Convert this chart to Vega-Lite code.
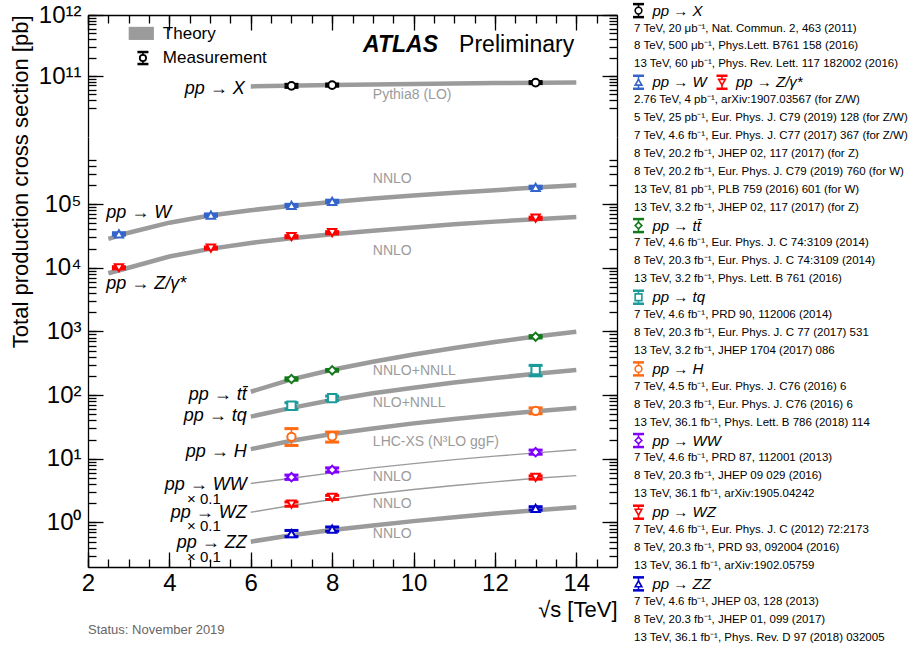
{
  "$schema": "https://vega.github.io/schema/vega-lite/v6.json",
  "background": "white",
  "padding": {"left": 9, "top": 2, "right": 0, "bottom": 0},
  "config": {
    "font": "Liberation Sans",
    "view": {"stroke": null},
    "axis": {
      "domainColor": "black", "domainWidth": 1.3, "tickColor": "black", "tickWidth": 1.3,
      "labelFont": "Liberation Sans", "labelFontSize": 24, "labelColor": "black",
      "titleFont": "Liberation Sans", "titleFontSize": 22, "titleFontWeight": "normal", "titleColor": "black",
      "grid": false, "labelOverlap": false, "labelBound": false, "labelFlush": false
    }
  },
  "datasets": {
    "theory": [
      {"proc": "X", "x": 6, "y": 67500000000}, {"proc": "X", "x": 8, "y": 71000000000}, {"proc": "X", "x": 10, "y": 74000000000}, {"proc": "X", "x": 12, "y": 76500000000}, {"proc": "X", "x": 14, "y": 78500000000},
      {"proc": "W", "x": 2.5, "y": 28500}, {"proc": "W", "x": 3, "y": 35500}, {"proc": "W", "x": 4, "y": 51000}, {"proc": "W", "x": 5, "y": 66000}, {"proc": "W", "x": 6, "y": 80000}, {"proc": "W", "x": 7, "y": 94000}, {"proc": "W", "x": 8, "y": 108000}, {"proc": "W", "x": 9, "y": 122000}, {"proc": "W", "x": 10, "y": 136000}, {"proc": "W", "x": 11, "y": 150000}, {"proc": "W", "x": 12, "y": 165000}, {"proc": "W", "x": 13, "y": 182000}, {"proc": "W", "x": 14, "y": 198000},
      {"proc": "Z", "x": 2.5, "y": 8200}, {"proc": "Z", "x": 3, "y": 10000}, {"proc": "Z", "x": 4, "y": 15000}, {"proc": "Z", "x": 5, "y": 19800}, {"proc": "Z", "x": 6, "y": 24500}, {"proc": "Z", "x": 7, "y": 29000}, {"proc": "Z", "x": 8, "y": 33500}, {"proc": "Z", "x": 9, "y": 38000}, {"proc": "Z", "x": 10, "y": 43000}, {"proc": "Z", "x": 11, "y": 48000}, {"proc": "Z", "x": 12, "y": 53000}, {"proc": "Z", "x": 13, "y": 58000}, {"proc": "Z", "x": 14, "y": 62500},
      {"proc": "tt", "x": 6, "y": 113}, {"proc": "tt", "x": 7, "y": 177}, {"proc": "tt", "x": 8, "y": 250}, {"proc": "tt", "x": 9, "y": 335}, {"proc": "tt", "x": 10, "y": 435}, {"proc": "tt", "x": 11, "y": 550}, {"proc": "tt", "x": 12, "y": 680}, {"proc": "tt", "x": 13, "y": 830}, {"proc": "tt", "x": 14, "y": 990},
      {"proc": "tq", "x": 6, "y": 46}, {"proc": "tq", "x": 7, "y": 63}, {"proc": "tq", "x": 8, "y": 84}, {"proc": "tq", "x": 9, "y": 107}, {"proc": "tq", "x": 10, "y": 131}, {"proc": "tq", "x": 11, "y": 158}, {"proc": "tq", "x": 12, "y": 186}, {"proc": "tq", "x": 13, "y": 216}, {"proc": "tq", "x": 14, "y": 248},
      {"proc": "H", "x": 6, "y": 14.2}, {"proc": "H", "x": 7, "y": 19.2}, {"proc": "H", "x": 8, "y": 24.5}, {"proc": "H", "x": 9, "y": 30}, {"proc": "H", "x": 10, "y": 36}, {"proc": "H", "x": 11, "y": 42.2}, {"proc": "H", "x": 12, "y": 48.8}, {"proc": "H", "x": 13, "y": 55.6}, {"proc": "H", "x": 14, "y": 62.6},
      {"proc": "WW", "x": 6, "y": 4.1}, {"proc": "WW", "x": 7, "y": 4.95}, {"proc": "WW", "x": 8, "y": 6.0}, {"proc": "WW", "x": 9, "y": 7.2}, {"proc": "WW", "x": 10, "y": 8.4}, {"proc": "WW", "x": 11, "y": 9.7}, {"proc": "WW", "x": 12, "y": 11.0}, {"proc": "WW", "x": 13, "y": 12.4}, {"proc": "WW", "x": 14, "y": 13.9},
      {"proc": "WZ", "x": 6, "y": 1.45}, {"proc": "WZ", "x": 7, "y": 1.85}, {"proc": "WZ", "x": 8, "y": 2.3}, {"proc": "WZ", "x": 9, "y": 2.8}, {"proc": "WZ", "x": 10, "y": 3.3}, {"proc": "WZ", "x": 11, "y": 3.8}, {"proc": "WZ", "x": 12, "y": 4.35}, {"proc": "WZ", "x": 13, "y": 4.95}, {"proc": "WZ", "x": 14, "y": 5.45},
      {"proc": "ZZ", "x": 6, "y": 0.5}, {"proc": "ZZ", "x": 7, "y": 0.63}, {"proc": "ZZ", "x": 8, "y": 0.76}, {"proc": "ZZ", "x": 9, "y": 0.9}, {"proc": "ZZ", "x": 10, "y": 1.05}, {"proc": "ZZ", "x": 11, "y": 1.21}, {"proc": "ZZ", "x": 12, "y": 1.38}, {"proc": "ZZ", "x": 13, "y": 1.56}, {"proc": "ZZ", "x": 14, "y": 1.74}
    ],
    "meas": [
      {"proc": "X", "x": 7, "y": 69000000000, "lo": 65000000000, "hi": 73000000000},
      {"proc": "X", "x": 8, "y": 71000000000, "lo": 68000000000, "hi": 74000000000},
      {"proc": "X", "x": 13, "y": 78000000000, "lo": 75000000000, "hi": 81000000000},
      {"proc": "W", "x": 2.76, "y": 34000, "lo": 32500, "hi": 35500},
      {"proc": "W", "x": 5.02, "y": 67000, "lo": 64000, "hi": 70000},
      {"proc": "W", "x": 7, "y": 95000, "lo": 91000, "hi": 99000},
      {"proc": "W", "x": 8, "y": 110000, "lo": 105000, "hi": 115000},
      {"proc": "W", "x": 13, "y": 183000, "lo": 175000, "hi": 191000},
      {"proc": "Z", "x": 2.76, "y": 10000, "lo": 9600, "hi": 10400},
      {"proc": "Z", "x": 5.02, "y": 20400, "lo": 19600, "hi": 21200},
      {"proc": "Z", "x": 7, "y": 30700, "lo": 29500, "hi": 31900},
      {"proc": "Z", "x": 8, "y": 35500, "lo": 34100, "hi": 36900},
      {"proc": "Z", "x": 13, "y": 60000, "lo": 57600, "hi": 62400},
      {"proc": "tt", "x": 7, "y": 179, "lo": 171, "hi": 187},
      {"proc": "tt", "x": 8, "y": 245, "lo": 237, "hi": 253},
      {"proc": "tt", "x": 13, "y": 825, "lo": 790, "hi": 860},
      {"proc": "tq", "x": 7, "y": 68, "lo": 60, "hi": 76},
      {"proc": "tq", "x": 8, "y": 89.6, "lo": 82.5, "hi": 96.7},
      {"proc": "tq", "x": 13, "y": 247, "lo": 201, "hi": 293},
      {"proc": "H", "x": 7, "y": 22.1, "lo": 16.2, "hi": 29.8},
      {"proc": "H", "x": 8, "y": 22.6, "lo": 18.3, "hi": 26.3},
      {"proc": "H", "x": 13, "y": 56.7, "lo": 51, "hi": 63},
      {"proc": "WW", "x": 7, "y": 5.14, "lo": 4.75, "hi": 5.55},
      {"proc": "WW", "x": 8, "y": 6.7, "lo": 6.2, "hi": 7.2},
      {"proc": "WW", "x": 13, "y": 12.7, "lo": 11.8, "hi": 13.7},
      {"proc": "WZ", "x": 7, "y": 1.95, "lo": 1.8, "hi": 2.1},
      {"proc": "WZ", "x": 8, "y": 2.48, "lo": 2.3, "hi": 2.66},
      {"proc": "WZ", "x": 13, "y": 5.1, "lo": 4.8, "hi": 5.4},
      {"proc": "ZZ", "x": 7, "y": 0.67, "lo": 0.6, "hi": 0.75},
      {"proc": "ZZ", "x": 8, "y": 0.79, "lo": 0.73, "hi": 0.85},
      {"proc": "ZZ", "x": 13, "y": 1.67, "lo": 1.57, "hi": 1.77}
    ],
    "annTop": [
      {"x": 5.85, "y": 61000000000, "text": "pp → X", "kind": "procR"},
      {"x": 9.0, "y": 49000000000, "text": "Pythia8 (LO)", "kind": "theo"},
      {"x": 3.84, "y": 490000000000, "text": "Theory", "kind": "leg"},
      {"x": 3.84, "y": 197000000000, "text": "Measurement", "kind": "leg"},
      {"x": 8.76, "y": 320000000000, "text": "ATLAS", "kind": "atlas"},
      {"x": 11.12, "y": 320000000000, "text": "Preliminary", "kind": "prelim"}
    ],
    "legBox": [{"x": 3.0, "x2": 3.62, "y": 390000000000, "y2": 640000000000}],
    "legMeas": [{"proc": "X", "x": 3.35, "y": 197000000000}],
    "ann": [
      {"x": 2.45, "y": 72000, "text": "pp → W", "kind": "procL"},
      {"x": 2.45, "y": 5500, "text": "pp → Z/γ*", "kind": "procL"},
      {"x": 5.9, "y": 100, "text": "pp → tt̄", "kind": "procR"},
      {"x": 5.9, "y": 46.6, "text": "pp → tq", "kind": "procR"},
      {"x": 5.9, "y": 12.7, "text": "pp → H", "kind": "procR"},
      {"x": 5.9, "y": 3.9, "text": "pp → WW", "kind": "procR"},
      {"x": 5.9, "y": 1.43, "text": "pp → WZ", "kind": "procR"},
      {"x": 5.9, "y": 0.48, "text": "pp → ZZ", "kind": "procR"},
      {"x": 4.85, "y": 2.36, "text": "× 0.1", "kind": "scale"},
      {"x": 4.85, "y": 0.87, "text": "× 0.1", "kind": "scale"},
      {"x": 4.85, "y": 0.29, "text": "× 0.1", "kind": "scale"},
      {"x": 9.0, "y": 250000, "text": "NNLO", "kind": "theo"},
      {"x": 9.0, "y": 18500, "text": "NNLO", "kind": "theo"},
      {"x": 9.0, "y": 239, "text": "NNLO+NNLL", "kind": "theo"},
      {"x": 9.0, "y": 74, "text": "NLO+NNLL", "kind": "theo"},
      {"x": 9.0, "y": 18.3, "text": "LHC-XS (N³LO ggF)", "kind": "theo"},
      {"x": 9.0, "y": 5.1, "text": "NNLO", "kind": "theo"},
      {"x": 9.0, "y": 1.95, "text": "NNLO", "kind": "theo"},
      {"x": 9.0, "y": 0.65, "text": "NNLO", "kind": "theo"},
      {"x": 2.0, "y": 0.0204, "text": "Status: November 2019", "kind": "status"}
    ],
    "leg": [
      {"row": 1, "slot": "a", "kind": "head", "proc": "X", "text": "pp → X"},
      {"row": 2, "slot": "a", "kind": "ref", "text": "7 TeV, 20 μb⁻¹, Nat. Commun. 2, 463 (2011)"},
      {"row": 3, "slot": "a", "kind": "ref", "text": "8 TeV, 500 μb⁻¹, Phys.Lett. B761 158 (2016)"},
      {"row": 4, "slot": "a", "kind": "ref", "text": "13 TeV, 60 μb⁻¹, Phys. Rev. Lett. 117 182002 (2016)"},
      {"row": 5, "slot": "a", "kind": "head", "proc": "W", "text": "pp → W"},
      {"row": 5, "slot": "b", "kind": "head", "proc": "Z", "text": "pp → Z/γ*"},
      {"row": 6, "slot": "a", "kind": "ref", "text": "2.76 TeV, 4 pb⁻¹, arXiv:1907.03567 (for Z/W)"},
      {"row": 7, "slot": "a", "kind": "ref", "text": "5 TeV, 25 pb⁻¹, Eur. Phys. J. C79 (2019) 128 (for Z/W)"},
      {"row": 8, "slot": "a", "kind": "ref", "text": "7 TeV, 4.6 fb⁻¹, Eur. Phys. J. C77 (2017) 367 (for Z/W)"},
      {"row": 9, "slot": "a", "kind": "ref", "text": "8 TeV, 20.2 fb⁻¹, JHEP 02, 117 (2017) (for Z)"},
      {"row": 10, "slot": "a", "kind": "ref", "text": "8 TeV, 20.2 fb⁻¹, Eur. Phys. J. C79 (2019) 760 (for W)"},
      {"row": 11, "slot": "a", "kind": "ref", "text": "13 TeV, 81 pb⁻¹, PLB 759 (2016) 601 (for W)"},
      {"row": 12, "slot": "a", "kind": "ref", "text": "13 TeV, 3.2 fb⁻¹, JHEP 02, 117 (2017) (for Z)"},
      {"row": 13, "slot": "a", "kind": "head", "proc": "tt", "text": "pp → tt̄"},
      {"row": 14, "slot": "a", "kind": "ref", "text": "7 TeV, 4.6 fb⁻¹, Eur. Phys. J. C 74:3109 (2014)"},
      {"row": 15, "slot": "a", "kind": "ref", "text": "8 TeV, 20.3 fb⁻¹, Eur. Phys. J. C 74:3109 (2014)"},
      {"row": 16, "slot": "a", "kind": "ref", "text": "13 TeV, 3.2 fb⁻¹, Phys. Lett. B 761 (2016)"},
      {"row": 17, "slot": "a", "kind": "head", "proc": "tq", "text": "pp → tq"},
      {"row": 18, "slot": "a", "kind": "ref", "text": "7 TeV, 4.6 fb⁻¹, PRD 90, 112006 (2014)"},
      {"row": 19, "slot": "a", "kind": "ref", "text": "8 TeV, 20.3 fb⁻¹, Eur. Phys. J. C 77 (2017) 531"},
      {"row": 20, "slot": "a", "kind": "ref", "text": "13 TeV, 3.2 fb⁻¹, JHEP 1704 (2017) 086"},
      {"row": 21, "slot": "a", "kind": "head", "proc": "H", "text": "pp → H"},
      {"row": 22, "slot": "a", "kind": "ref", "text": "7 TeV, 4.5 fb⁻¹, Eur. Phys. J. C76 (2016) 6"},
      {"row": 23, "slot": "a", "kind": "ref", "text": "8 TeV, 20.3 fb⁻¹, Eur. Phys. J. C76 (2016) 6"},
      {"row": 24, "slot": "a", "kind": "ref", "text": "13 TeV, 36.1 fb⁻¹, Phys. Lett. B 786 (2018) 114"},
      {"row": 25, "slot": "a", "kind": "head", "proc": "WW", "text": "pp → WW"},
      {"row": 26, "slot": "a", "kind": "ref", "text": "7 TeV, 4.6 fb⁻¹, PRD 87, 112001 (2013)"},
      {"row": 27, "slot": "a", "kind": "ref", "text": "8 TeV, 20.3 fb⁻¹, JHEP 09 029 (2016)"},
      {"row": 28, "slot": "a", "kind": "ref", "text": "13 TeV, 36.1 fb⁻¹, arXiv:1905.04242"},
      {"row": 29, "slot": "a", "kind": "head", "proc": "WZ", "text": "pp → WZ"},
      {"row": 30, "slot": "a", "kind": "ref", "text": "7 TeV, 4.6 fb⁻¹, Eur. Phys. J. C (2012) 72:2173"},
      {"row": 31, "slot": "a", "kind": "ref", "text": "8 TeV, 20.3 fb⁻¹, PRD 93, 092004 (2016)"},
      {"row": 32, "slot": "a", "kind": "ref", "text": "13 TeV, 36.1 fb⁻¹, arXiv:1902.05759"},
      {"row": 33, "slot": "a", "kind": "head", "proc": "ZZ", "text": "pp → ZZ"},
      {"row": 34, "slot": "a", "kind": "ref", "text": "7 TeV, 4.6 fb⁻¹, JHEP 03, 128 (2013)"},
      {"row": 35, "slot": "a", "kind": "ref", "text": "8 TeV, 20.3 fb⁻¹, JHEP 01, 099 (2017)"},
      {"row": 36, "slot": "a", "kind": "ref", "text": "13 TeV, 36.1 fb⁻¹, Phys. Rev. D 97 (2018) 032005"}
    ]
  },
  "spacing": 13,
  "hconcat": [
    {
      "vconcat": [
        {
          "width": 529, "height": 122,
          "layer": [
            {
              "data": {"name": "theory"},
              "transform": [{"filter": "datum.proc == 'X'"}],
              "mark": {"type": "line", "color": "#9b9b9b", "strokeWidth": 4.5},
              "encoding": {
                "x": {"field": "x", "type": "quantitative", "scale": {"domain": [2, 15], "nice": false, "zero": false},
                  "axis": {"orient": "top", "values": [2,2.5,3,3.5,4,4.5,5,5.5,6,6.5,7,7.5,8,8.5,9,9.5,10,10.5,11,11.5,12,12.5,13,13.5,14,14.5], "labels": false, "title": null, "tickSize": -8}},
                "y": {"field": "y", "type": "quantitative", "scale": {"type": "log", "domain": [10000000000, 1000000000000], "nice": false},
                  "axis": {"orient": "left", "values": [30000000000,40000000000,50000000000,60000000000,70000000000,80000000000,90000000000,100000000000,200000000000,300000000000,400000000000,500000000000,600000000000,700000000000,800000000000,900000000000,1000000000000],
                    "labelExpr": "datum.value == 100000000000 ? '10¹¹' : datum.value == 1000000000000 ? '10¹²' : ''",
                    "tickSize": -8, "labelPadding": 15,
                    "title": "Total production cross section [pb]", "titleAnchor": "end", "titlePadding": 6}}
              }
            },
            {
              "data": {"name": "meas"},
              "transform": [{"filter": "datum.proc == 'X'"}],
              "mark": {"type": "rule", "strokeWidth": 1.6},
              "encoding": {
                "x": {"field": "x", "type": "quantitative", "scale": {"domain": [2, 15], "nice": false, "zero": false},
                  "axis": {"orient": "top", "values": [2,4,6,8,10,12,14], "labels": false, "domain": false, "title": null, "tickSize": -15}},
                "y": {"field": "lo", "type": "quantitative", "scale": {"type": "log", "domain": [10000000000, 1000000000000], "nice": false},
                  "axis": {"orient": "right", "values": [30000000000,40000000000,50000000000,60000000000,70000000000,80000000000,90000000000,100000000000,200000000000,300000000000,400000000000,500000000000,600000000000,700000000000,800000000000,900000000000,1000000000000],
                    "labels": false, "title": null, "tickSize": -8}},
                "y2": {"field": "hi"},
                "color": {"field": "proc", "type": "nominal", "legend": null, "scale": {"domain": ["X","W","Z","tt","tq","H","WW","WZ","ZZ"], "range": ["#000000","#3465CB","#FF0000","#13791B","#1B9A9A","#FF6A13","#7F00FF","#FF0000","#0000CC"]}}
              }
            },
            {
              "data": {"name": "meas"},
              "transform": [{"filter": "datum.proc == 'X'"}],
              "mark": {"type": "tick", "orient": "horizontal", "size": 14, "thickness": 3, "opacity": 1},
              "encoding": {
                "x": {"field": "x", "type": "quantitative", "scale": {"domain": [2, 15], "nice": false, "zero": false}, "axis": null},
                "y": {"field": "lo", "type": "quantitative", "scale": {"type": "log", "domain": [10000000000, 1000000000000], "nice": false},
                  "axis": {"orient": "left", "values": [100000000000, 1000000000000], "labels": false, "domain": false, "title": null, "tickSize": -15}},
                "color": {"field": "proc", "type": "nominal", "legend": null, "scale": {"domain": ["X","W","Z","tt","tq","H","WW","WZ","ZZ"], "range": ["#000000","#3465CB","#FF0000","#13791B","#1B9A9A","#FF6A13","#7F00FF","#FF0000","#0000CC"]}}
              }
            },
            {
              "data": {"name": "meas"},
              "transform": [{"filter": "datum.proc == 'X'"}],
              "mark": {"type": "tick", "orient": "horizontal", "size": 14, "thickness": 3, "opacity": 1},
              "encoding": {
                "x": {"field": "x", "type": "quantitative", "scale": {"domain": [2, 15], "nice": false, "zero": false}, "axis": null},
                "y": {"field": "hi", "type": "quantitative", "scale": {"type": "log", "domain": [10000000000, 1000000000000], "nice": false},
                  "axis": {"orient": "right", "values": [100000000000, 1000000000000], "labels": false, "domain": false, "title": null, "tickSize": -15}},
                "color": {"field": "proc", "type": "nominal", "legend": null, "scale": {"domain": ["X","W","Z","tt","tq","H","WW","WZ","ZZ"], "range": ["#000000","#3465CB","#FF0000","#13791B","#1B9A9A","#FF6A13","#7F00FF","#FF0000","#0000CC"]}}
              }
            },
            {
              "data": {"name": "meas"},
              "transform": [{"filter": "datum.proc == 'X'"}],
              "mark": {"type": "point", "filled": true, "fill": "white", "size": 60, "strokeWidth": 2, "opacity": 1},
              "encoding": {
                "x": {"field": "x", "type": "quantitative", "scale": {"domain": [2, 15], "nice": false, "zero": false}, "axis": null},
                "y": {"field": "y", "type": "quantitative", "scale": {"type": "log", "domain": [10000000000, 1000000000000], "nice": false}, "axis": null},
                "stroke": {"field": "proc", "type": "nominal", "legend": null, "scale": {"domain": ["X","W","Z","tt","tq","H","WW","WZ","ZZ"], "range": ["#000000","#3465CB","#FF0000","#13791B","#1B9A9A","#FF6A13","#7F00FF","#FF0000","#0000CC"]}},
                "shape": {"field": "proc", "type": "nominal", "legend": null, "scale": {"domain": ["X","W","Z","tt","tq","H","WW","WZ","ZZ"], "range": ["circle","triangle-up","triangle-down","diamond","square","circle","diamond","triangle-down","triangle-up"]}}
              }
            },
            {
              "data": {"name": "legBox"},
              "mark": {"type": "rect", "color": "#9b9b9b"},
              "encoding": {
                "x": {"field": "x", "type": "quantitative", "scale": {"domain": [2, 15], "nice": false, "zero": false}, "axis": null},
                "x2": {"field": "x2"},
                "y": {"field": "y", "type": "quantitative", "scale": {"type": "log", "domain": [10000000000, 1000000000000], "nice": false}, "axis": null},
                "y2": {"field": "y2"}
              }
            },
            {
              "data": {"name": "legMeas"},
              "mark": {"type": "tick", "orient": "vertical", "size": 12, "thickness": 1.6, "opacity": 1, "color": "black"},
              "encoding": {
                "x": {"field": "x", "type": "quantitative", "scale": {"domain": [2, 15], "nice": false, "zero": false}, "axis": null},
                "y": {"field": "y", "type": "quantitative", "scale": {"type": "log", "domain": [10000000000, 1000000000000], "nice": false}, "axis": null}
              }
            },
            {
              "data": {"name": "legMeas"},
              "mark": {"type": "tick", "orient": "horizontal", "size": 11, "thickness": 2.5, "opacity": 1, "color": "black", "yOffset": -6},
              "encoding": {
                "x": {"field": "x", "type": "quantitative", "scale": {"domain": [2, 15], "nice": false, "zero": false}, "axis": null},
                "y": {"field": "y", "type": "quantitative", "scale": {"type": "log", "domain": [10000000000, 1000000000000], "nice": false}, "axis": null}
              }
            },
            {
              "data": {"name": "legMeas"},
              "mark": {"type": "tick", "orient": "horizontal", "size": 11, "thickness": 2.5, "opacity": 1, "color": "black", "yOffset": 6},
              "encoding": {
                "x": {"field": "x", "type": "quantitative", "scale": {"domain": [2, 15], "nice": false, "zero": false}, "axis": null},
                "y": {"field": "y", "type": "quantitative", "scale": {"type": "log", "domain": [10000000000, 1000000000000], "nice": false}, "axis": null}
              }
            },
            {
              "data": {"name": "legMeas"},
              "mark": {"type": "point", "shape": "circle", "filled": true, "fill": "white", "stroke": "black", "size": 40, "strokeWidth": 1.8, "opacity": 1},
              "encoding": {
                "x": {"field": "x", "type": "quantitative", "scale": {"domain": [2, 15], "nice": false, "zero": false}, "axis": null},
                "y": {"field": "y", "type": "quantitative", "scale": {"type": "log", "domain": [10000000000, 1000000000000], "nice": false}, "axis": null}
              }
            },
            {
              "data": {"name": "annTop"},
              "transform": [{"filter": "datum.kind == 'procR'"}],
              "mark": {"type": "text", "align": "right", "baseline": "middle", "fontSize": 18, "fontStyle": "italic", "color": "black"},
              "encoding": {
                "x": {"field": "x", "type": "quantitative", "scale": {"domain": [2, 15], "nice": false, "zero": false}, "axis": null},
                "y": {"field": "y", "type": "quantitative", "scale": {"type": "log", "domain": [10000000000, 1000000000000], "nice": false}, "axis": null},
                "text": {"field": "text"}
              }
            },
            {
              "data": {"name": "annTop"},
              "transform": [{"filter": "datum.kind == 'theo'"}],
              "mark": {"type": "text", "align": "left", "baseline": "middle", "fontSize": 14, "color": "#9b9b9b"},
              "encoding": {
                "x": {"field": "x", "type": "quantitative", "scale": {"domain": [2, 15], "nice": false, "zero": false}, "axis": null},
                "y": {"field": "y", "type": "quantitative", "scale": {"type": "log", "domain": [10000000000, 1000000000000], "nice": false}, "axis": null},
                "text": {"field": "text"}
              }
            },
            {
              "data": {"name": "annTop"},
              "transform": [{"filter": "datum.kind == 'leg'"}],
              "mark": {"type": "text", "align": "left", "baseline": "middle", "fontSize": 17, "color": "black"},
              "encoding": {
                "x": {"field": "x", "type": "quantitative", "scale": {"domain": [2, 15], "nice": false, "zero": false}, "axis": null},
                "y": {"field": "y", "type": "quantitative", "scale": {"type": "log", "domain": [10000000000, 1000000000000], "nice": false}, "axis": null},
                "text": {"field": "text"}
              }
            },
            {
              "data": {"name": "annTop"},
              "transform": [{"filter": "datum.kind == 'atlas'"}],
              "mark": {"type": "text", "align": "left", "baseline": "middle", "fontSize": 23, "fontStyle": "italic", "fontWeight": "bold", "color": "black"},
              "encoding": {
                "x": {"field": "x", "type": "quantitative", "scale": {"domain": [2, 15], "nice": false, "zero": false}, "axis": null},
                "y": {"field": "y", "type": "quantitative", "scale": {"type": "log", "domain": [10000000000, 1000000000000], "nice": false}, "axis": null},
                "text": {"field": "text"}
              }
            },
            {
              "data": {"name": "annTop"},
              "transform": [{"filter": "datum.kind == 'prelim'"}],
              "mark": {"type": "text", "align": "left", "baseline": "middle", "fontSize": 23, "color": "black"},
              "encoding": {
                "x": {"field": "x", "type": "quantitative", "scale": {"domain": [2, 15], "nice": false, "zero": false}, "axis": null},
                "y": {"field": "y", "type": "quantitative", "scale": {"type": "log", "domain": [10000000000, 1000000000000], "nice": false}, "axis": null},
                "text": {"field": "text"}
              }
            }
          ],
          "resolve": {"axis": {"x": "independent", "y": "independent"}}
        },
        {
          "width": 529, "height": 430,
          "layer": [
            {
              "data": {"name": "theory"},
              "transform": [{"filter": "datum.proc != 'X' && datum.proc != 'WW' && datum.proc != 'WZ'"}],
              "mark": {"type": "line", "color": "#9b9b9b", "strokeWidth": 4.5},
              "encoding": {
                "detail": {"field": "proc"},
                "x": {"field": "x", "type": "quantitative", "scale": {"domain": [2, 15], "nice": false, "zero": false},
                  "axis": {"orient": "bottom", "values": [2,2.5,3,3.5,4,4.5,5,5.5,6,6.5,7,7.5,8,8.5,9,9.5,10,10.5,11,11.5,12,12.5,13,13.5,14,14.5],
                    "labelExpr": "datum.value % 2 == 0 ? format(datum.value, 'd') : ''",
                    "tickSize": -8, "labelPadding": 12, "title": "√s  [TeV]", "titleAnchor": "end", "titlePadding": 4}},
                "y": {"field": "y", "type": "quantitative", "scale": {"type": "log", "domain": [0.2, 1130000], "nice": false},
                  "axis": {"orient": "left", "values": [0.3,0.4,0.5,0.6,0.7,0.8,0.9,1,2,3,4,5,6,7,8,9,10,20,30,40,50,60,70,80,90,100,200,300,400,500,600,700,800,900,1000,2000,3000,4000,5000,6000,7000,8000,9000,10000,20000,30000,40000,50000,60000,70000,80000,90000,100000,200000,300000,400000,500000],
                    "labelExpr": "datum.value == 1 ? '10⁰' : datum.value == 10 ? '10¹' : datum.value == 100 ? '10²' : datum.value == 1000 ? '10³' : datum.value == 10000 ? '10⁴' : datum.value == 100000 ? '10⁵' : ''",
                    "tickSize": -8, "labelPadding": 15, "title": null}}
              }
            },
            {
              "data": {"name": "theory"},
              "transform": [{"filter": "datum.proc == 'WW' || datum.proc == 'WZ'"}],
              "mark": {"type": "line", "color": "#9b9b9b", "strokeWidth": 1.4},
              "encoding": {
                "detail": {"field": "proc"},
                "x": {"field": "x", "type": "quantitative", "scale": {"domain": [2, 15], "nice": false, "zero": false},
                  "axis": {"orient": "bottom", "values": [2,4,6,8,10,12,14], "labels": false, "domain": false, "title": null, "tickSize": -15}},
                "y": {"field": "y", "type": "quantitative", "scale": {"type": "log", "domain": [0.2, 1130000], "nice": false},
                  "axis": {"orient": "right", "values": [0.3,0.4,0.5,0.6,0.7,0.8,0.9,1,2,3,4,5,6,7,8,9,10,20,30,40,50,60,70,80,90,100,200,300,400,500,600,700,800,900,1000,2000,3000,4000,5000,6000,7000,8000,9000,10000,20000,30000,40000,50000,60000,70000,80000,90000,100000,200000,300000,400000,500000],
                    "labels": false, "title": null, "tickSize": -8}}
              }
            },
            {
              "data": {"name": "meas"},
              "transform": [{"filter": "datum.proc != 'X'"}],
              "mark": {"type": "rule", "strokeWidth": 1.6},
              "encoding": {
                "x": {"field": "x", "type": "quantitative", "scale": {"domain": [2, 15], "nice": false, "zero": false}, "axis": null},
                "y": {"field": "lo", "type": "quantitative", "scale": {"type": "log", "domain": [0.2, 1130000], "nice": false},
                  "axis": {"orient": "left", "values": [1,10,100,1000,10000,100000], "labels": false, "domain": false, "title": null, "tickSize": -15}},
                "y2": {"field": "hi"},
                "color": {"field": "proc", "type": "nominal", "legend": null, "scale": {"domain": ["X","W","Z","tt","tq","H","WW","WZ","ZZ"], "range": ["#000000","#3465CB","#FF0000","#13791B","#1B9A9A","#FF6A13","#7F00FF","#FF0000","#0000CC"]}}
              }
            },
            {
              "data": {"name": "meas"},
              "transform": [{"filter": "datum.proc != 'X'"}],
              "mark": {"type": "tick", "orient": "horizontal", "size": 14, "thickness": 3, "opacity": 1},
              "encoding": {
                "x": {"field": "x", "type": "quantitative", "scale": {"domain": [2, 15], "nice": false, "zero": false}, "axis": null},
                "y": {"field": "lo", "type": "quantitative", "scale": {"type": "log", "domain": [0.2, 1130000], "nice": false},
                  "axis": {"orient": "right", "values": [1,10,100,1000,10000,100000], "labels": false, "domain": false, "title": null, "tickSize": -15}},
                "color": {"field": "proc", "type": "nominal", "legend": null, "scale": {"domain": ["X","W","Z","tt","tq","H","WW","WZ","ZZ"], "range": ["#000000","#3465CB","#FF0000","#13791B","#1B9A9A","#FF6A13","#7F00FF","#FF0000","#0000CC"]}}
              }
            },
            {
              "data": {"name": "meas"},
              "transform": [{"filter": "datum.proc != 'X'"}],
              "mark": {"type": "tick", "orient": "horizontal", "size": 14, "thickness": 3, "opacity": 1},
              "encoding": {
                "x": {"field": "x", "type": "quantitative", "scale": {"domain": [2, 15], "nice": false, "zero": false}, "axis": null},
                "y": {"field": "hi", "type": "quantitative", "scale": {"type": "log", "domain": [0.2, 1130000], "nice": false}, "axis": null},
                "color": {"field": "proc", "type": "nominal", "legend": null, "scale": {"domain": ["X","W","Z","tt","tq","H","WW","WZ","ZZ"], "range": ["#000000","#3465CB","#FF0000","#13791B","#1B9A9A","#FF6A13","#7F00FF","#FF0000","#0000CC"]}}
              }
            },
            {
              "data": {"name": "meas"},
              "transform": [{"filter": "datum.proc != 'X'"}],
              "mark": {"type": "point", "filled": true, "fill": "white", "size": 70, "strokeWidth": 2, "opacity": 1},
              "encoding": {
                "x": {"field": "x", "type": "quantitative", "scale": {"domain": [2, 15], "nice": false, "zero": false}, "axis": null},
                "y": {"field": "y", "type": "quantitative", "scale": {"type": "log", "domain": [0.2, 1130000], "nice": false}, "axis": null},
                "stroke": {"field": "proc", "type": "nominal", "legend": null, "scale": {"domain": ["X","W","Z","tt","tq","H","WW","WZ","ZZ"], "range": ["#000000","#3465CB","#FF0000","#13791B","#1B9A9A","#FF6A13","#7F00FF","#FF0000","#0000CC"]}},
                "shape": {"field": "proc", "type": "nominal", "legend": null, "scale": {"domain": ["X","W","Z","tt","tq","H","WW","WZ","ZZ"], "range": ["circle","triangle-up","triangle-down","diamond","square","circle","diamond","triangle-down","triangle-up"]}}
              }
            },
            {
              "data": {"name": "ann"},
              "transform": [{"filter": "datum.kind == 'procL'"}],
              "mark": {"type": "text", "align": "left", "baseline": "middle", "fontSize": 18, "fontStyle": "italic", "color": "black"},
              "encoding": {
                "x": {"field": "x", "type": "quantitative", "scale": {"domain": [2, 15], "nice": false, "zero": false}, "axis": null},
                "y": {"field": "y", "type": "quantitative", "scale": {"type": "log", "domain": [0.2, 1130000], "nice": false}, "axis": null},
                "text": {"field": "text"}
              }
            },
            {
              "data": {"name": "ann"},
              "transform": [{"filter": "datum.kind == 'procR'"}],
              "mark": {"type": "text", "align": "right", "baseline": "middle", "fontSize": 18, "fontStyle": "italic", "color": "black"},
              "encoding": {
                "x": {"field": "x", "type": "quantitative", "scale": {"domain": [2, 15], "nice": false, "zero": false}, "axis": null},
                "y": {"field": "y", "type": "quantitative", "scale": {"type": "log", "domain": [0.2, 1130000], "nice": false}, "axis": null},
                "text": {"field": "text"}
              }
            },
            {
              "data": {"name": "ann"},
              "transform": [{"filter": "datum.kind == 'scale'"}],
              "mark": {"type": "text", "align": "center", "baseline": "middle", "fontSize": 15, "color": "black"},
              "encoding": {
                "x": {"field": "x", "type": "quantitative", "scale": {"domain": [2, 15], "nice": false, "zero": false}, "axis": null},
                "y": {"field": "y", "type": "quantitative", "scale": {"type": "log", "domain": [0.2, 1130000], "nice": false}, "axis": null},
                "text": {"field": "text"}
              }
            },
            {
              "data": {"name": "ann"},
              "transform": [{"filter": "datum.kind == 'theo'"}],
              "mark": {"type": "text", "align": "left", "baseline": "middle", "fontSize": 14, "color": "#9b9b9b"},
              "encoding": {
                "x": {"field": "x", "type": "quantitative", "scale": {"domain": [2, 15], "nice": false, "zero": false}, "axis": null},
                "y": {"field": "y", "type": "quantitative", "scale": {"type": "log", "domain": [0.2, 1130000], "nice": false}, "axis": null},
                "text": {"field": "text"}
              }
            },
            {
              "data": {"name": "ann"},
              "transform": [{"filter": "datum.kind == 'status'"}],
              "mark": {"type": "text", "align": "left", "baseline": "middle", "fontSize": 13, "color": "#666666"},
              "encoding": {
                "x": {"field": "x", "type": "quantitative", "scale": {"domain": [2, 15], "nice": false, "zero": false}, "axis": null},
                "y": {"field": "y", "type": "quantitative", "scale": {"type": "log", "domain": [0.2, 1130000], "nice": false}, "axis": null},
                "text": {"field": "text"}
              }
            }
          ],
          "resolve": {"axis": {"x": "independent", "y": "independent"}}
        }
      ],
      "spacing": 0,
      "bounds": "flush"
    },
    {
      "width": 287, "height": 620,
      "data": {"name": "leg"},
      "encoding": {
        "x": {"field": "slot", "type": "nominal", "scale": {"type": "point", "domain": ["a", "b"], "range": [7.5, 91], "padding": 0}, "axis": null},
        "y": {"field": "row", "type": "quantitative", "scale": {"domain": [1.245, 35.855], "reverse": true, "nice": false, "zero": false}, "axis": null}
      },
      "layer": [
        {
          "transform": [{"filter": "datum.kind == 'ref'"}],
          "mark": {"type": "text", "align": "left", "baseline": "middle", "fontSize": 11.5, "dx": -4.5, "color": "black"},
          "encoding": {"text": {"field": "text"}}
        },
        {
          "transform": [{"filter": "datum.kind == 'head'"}],
          "mark": {"type": "text", "align": "left", "baseline": "middle", "fontSize": 15, "fontStyle": "italic", "dx": 14, "color": "black"},
          "encoding": {"text": {"field": "text"}}
        },
        {
          "transform": [{"filter": "datum.kind == 'head'"}],
          "mark": {"type": "tick", "orient": "vertical", "size": 13, "thickness": 1.5, "opacity": 1},
          "encoding": {"color": {"field": "proc", "type": "nominal", "legend": null, "scale": {"domain": ["X","W","Z","tt","tq","H","WW","WZ","ZZ"], "range": ["#000000","#3465CB","#FF0000","#13791B","#1B9A9A","#FF6A13","#7F00FF","#FF0000","#0000CC"]}}}
        },
        {
          "transform": [{"filter": "datum.kind == 'head'"}],
          "mark": {"type": "tick", "orient": "horizontal", "size": 11, "thickness": 2.5, "opacity": 1, "yOffset": -6.5},
          "encoding": {"color": {"field": "proc", "type": "nominal", "legend": null, "scale": {"domain": ["X","W","Z","tt","tq","H","WW","WZ","ZZ"], "range": ["#000000","#3465CB","#FF0000","#13791B","#1B9A9A","#FF6A13","#7F00FF","#FF0000","#0000CC"]}}}
        },
        {
          "transform": [{"filter": "datum.kind == 'head'"}],
          "mark": {"type": "tick", "orient": "horizontal", "size": 11, "thickness": 2.5, "opacity": 1, "yOffset": 6.5},
          "encoding": {"color": {"field": "proc", "type": "nominal", "legend": null, "scale": {"domain": ["X","W","Z","tt","tq","H","WW","WZ","ZZ"], "range": ["#000000","#3465CB","#FF0000","#13791B","#1B9A9A","#FF6A13","#7F00FF","#FF0000","#0000CC"]}}}
        },
        {
          "transform": [{"filter": "datum.kind == 'head'"}],
          "mark": {"type": "point", "filled": true, "fill": "white", "size": 45, "strokeWidth": 1.6, "opacity": 1},
          "encoding": {
            "stroke": {"field": "proc", "type": "nominal", "legend": null, "scale": {"domain": ["X","W","Z","tt","tq","H","WW","WZ","ZZ"], "range": ["#000000","#3465CB","#FF0000","#13791B","#1B9A9A","#FF6A13","#7F00FF","#FF0000","#0000CC"]}},
            "shape": {"field": "proc", "type": "nominal", "legend": null, "scale": {"domain": ["X","W","Z","tt","tq","H","WW","WZ","ZZ"], "range": ["circle","triangle-up","triangle-down","diamond","square","circle","diamond","triangle-down","triangle-up"]}}
          }
        }
      ]
    }
  ]
}
